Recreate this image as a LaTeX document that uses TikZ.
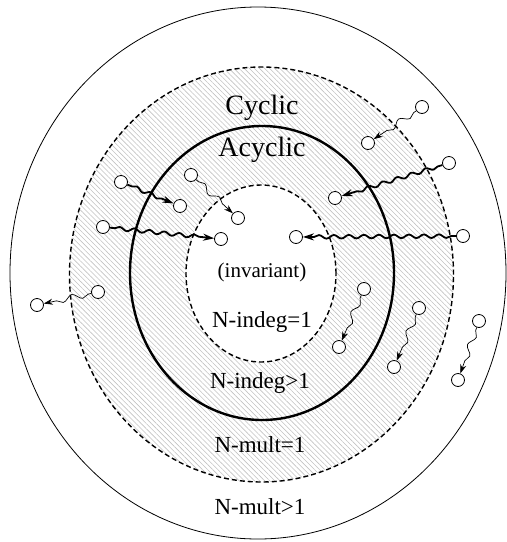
\documentclass[tikz,border=0pt]{standalone}
\usepackage{fontspec}
\setmainfont{Liberation Serif}
\usetikzlibrary{patterns.meta,decorations.pathmorphing,arrows.meta}
\begin{document}
\begin{tikzpicture}[x=1pt,y=-1pt,
  dot/.style={circle,draw,fill=white,line width=0.8pt,minimum size=13pt,inner sep=0pt},
  thickwave/.style={line width=1.8pt, decorate,
    decoration={snake,segment length=15pt,amplitude=1.8pt,pre length=5pt,post length=11pt},
    -{Stealth[length=11pt,width=7pt]}},
  thinwave/.style={line width=0.7pt, decorate,
    decoration={snake,segment length=20pt,amplitude=3pt,pre length=3pt,post length=8pt},
    -{Stealth[length=9pt,width=6pt]}},
  dashring/.style={line width=1.4pt, dash pattern=on 5pt off 3pt},
  lbl/.style={font=\fontsize{23}{25}\selectfont},
  big/.style={font=\fontsize{28}{30}\selectfont},
]
\useasboundingbox (0,0) rectangle (507,542);
% hatched ring
\fill[pattern={Lines[angle=-45,distance=3.6pt,line width=0.6pt]}, pattern color=black!24, even odd rule]
  (261.5,274.5) ellipse [x radius=192pt, y radius=207.5pt]
  (261,273.5) ellipse [x radius=75pt, y radius=88.5pt];
% ellipses
\draw[line width=0.8pt] (258,273) ellipse [x radius=248pt, y radius=266pt];
\draw[dashring] (261.5,274.5) ellipse [x radius=192pt, y radius=207.5pt];
\draw[line width=2.4pt] (262,273) ellipse [x radius=132pt, y radius=147pt];
\draw[dashring] (261,273.5) ellipse [x radius=75pt, y radius=88.5pt];
% labels
\node[big] (cyc) at (262,108) {Cyclic};
\node[big] (acy) at (262,150) {Acyclic};
\node[font=\fontsize{21}{23}\selectfont] (inv) at (262,272) {(invariant)};
\node[lbl] (ni1) at (262,322) {N-indeg=1};
\node[lbl] (ni2) at (260,383) {N-indeg>1};
\node[lbl] (nm1) at (260,445) {N-mult=1};
\node[lbl] (nm2) at (260,507) {N-mult>1};
% dots
\node[dot] (s1) at (422,107) {};  \node[dot] (e1) at (368,143) {};
\node[dot] (s2) at (449,163) {};  \node[dot] (e2) at (335,198) {};
\node[dot] (s3) at (463,236) {};  \node[dot] (e3) at (296,237) {};
\node[dot] (s4) at (121,182) {};  \node[dot] (e4) at (180,206) {};
\node[dot] (s5) at (191,175) {};  \node[dot] (e5) at (238,218) {};
\node[dot] (s6) at (103,227) {};  \node[dot] (e6) at (221,239) {};
\node[dot] (s7) at (98,292) {};   \node[dot] (e7) at (37,305) {};
\node[dot] (s8) at (364,289) {};  \node[dot] (e8) at (339,347) {};
\node[dot] (s9) at (419,308) {};  \node[dot] (e9) at (394,367) {};
\node[dot] (s10) at (479,321) {}; \node[dot] (e10) at (458,380) {};
% arrows
\draw[thinwave] (s1) -- (e1);
\draw[thickwave] (s2) -- (e2);
\draw[thickwave] (s3) -- (e3);
\draw[thickwave] (s4) -- (e4);
\draw[thinwave] (s5) -- (e5);
\draw[thickwave] (s6) -- (e6);
\draw[thinwave] (s7) -- (e7);
\draw[thinwave] (s8) -- (e8);
\draw[thinwave] (s9) -- (e9);
\draw[thinwave] (s10) -- (e10);
\end{tikzpicture}
\end{document}
